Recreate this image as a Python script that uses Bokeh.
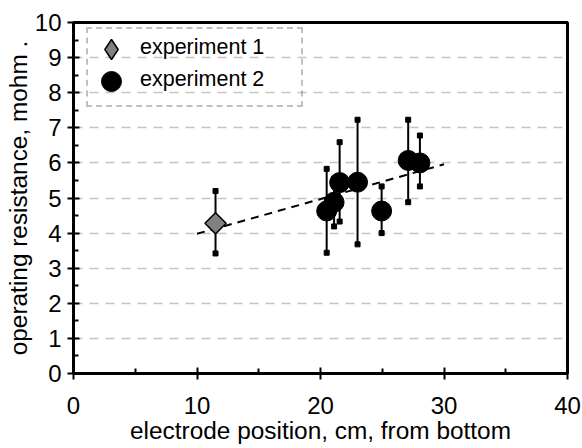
from bokeh.plotting import figure
from bokeh.models import Range1d, FixedTicker, Legend, LegendItem, ColumnDataSource
from bokeh.embed import file_html
from bokeh.resources import INLINE

# ---- data ----
exp1_x = [11.5]
exp1_y = [4.28]
exp1_lo = [3.42]
exp1_hi = [5.2]

exp2_x = [20.5, 21.1, 21.55, 23.0, 24.95, 27.1, 28.05]
exp2_y = [4.63, 4.88, 5.44, 5.45, 4.63, 6.07, 6.0]
exp2_lo = [3.44, 4.19, 4.33, 3.68, 4.0, 4.88, 5.33]
exp2_hi = [5.83, 5.55, 6.59, 7.23, 5.33, 7.23, 6.78]

trend_x = [10, 30]
trend_y = [3.98, 5.96]

x_ticks = [0, 10, 20, 30, 40]
y_ticks = [0, 1, 2, 3, 4, 5, 6, 7, 8, 9, 10]
series_labels = ["experiment 1", "experiment 2"]

FONT = "Liberation Sans"
FRAME_W = 494
FRAME_H = 351

p = figure(frame_width=FRAME_W, frame_height=FRAME_H, output_backend="svg", toolbar_location=None,
           x_range=Range1d(0, 40), y_range=Range1d(0, 10),
           min_border_left=73, min_border_right=15, min_border_top=22, min_border_bottom=75)
p.background_fill_color = "white"
p.border_fill_color = "white"
p.outline_line_color = "black"
p.outline_line_width = 3

# grid
p.xgrid.visible = False
p.ygrid.ticker = FixedTicker(ticks=y_ticks[1:-1])
p.ygrid.grid_line_color = "#c4c4c4"
p.ygrid.grid_line_width = 1.5
p.ygrid.grid_line_dash = "9 7"

for ax, ticks in ((p.xaxis[0], x_ticks), (p.yaxis[0], y_ticks)):
    minor = []
    for a, b in zip(ticks[:-1], ticks[1:]):
        minor.append((a + b) / 2)
    ax.ticker = FixedTicker(ticks=ticks, minor_ticks=minor)
    ax.axis_line_width = 3
    ax.axis_line_color = "black"
    ax.major_tick_line_width = 2
    ax.minor_tick_line_width = 2
    ax.major_tick_in = 6
    ax.major_tick_out = 6
    ax.minor_tick_in = 5
    ax.minor_tick_out = 0
    ax.major_label_text_font = FONT
    ax.major_label_text_font_size = "24px"
    ax.major_label_text_color = "black"
    ax.axis_label_text_font = FONT
    ax.axis_label_text_font_style = "normal"
    ax.axis_label_text_color = "black"
    ax.axis_label_text_font_size = "24.4px"
    ax.axis_label_standoff = 0

p.xaxis.axis_label = "electrode position, cm, from bottom"
p.yaxis.axis_label = "operating resistance, mohm ."
p.xaxis.major_label_standoff = 17
p.yaxis.major_label_standoff = 6

# trend line
p.line(trend_x, trend_y, line_color="black", line_width=2, line_dash="8 6")

# error bars
s1 = ColumnDataSource(dict(x=exp1_x, y=exp1_y, lo=exp1_lo, hi=exp1_hi))
s2 = ColumnDataSource(dict(x=exp2_x, y=exp2_y, lo=exp2_lo, hi=exp2_hi))
for s in (s1, s2):
    p.segment(x0="x", y0="lo", x1="x", y1="hi", source=s, line_color="black", line_width=2)
    p.scatter(x="x", y="lo", source=s, marker="square", size=5, fill_color="black", line_color="black")
    p.scatter(x="x", y="hi", source=s, marker="square", size=5, fill_color="black", line_color="black")

r1 = p.scatter(x="x", y="y", source=s1, marker="square", angle=0.785398, size=15,
               fill_color="#808080", line_color="black", line_width=1.5)
r2 = p.scatter(x="x", y="y", source=s2, marker="circle", size=20,
               fill_color="black", line_color="black")

# legend proxies (not drawn in the plot, only used for legend swatches)
blank = p.scatter(x="x", y="y", source=s1, marker="circle", size=1,
                  fill_alpha=0, line_alpha=0, visible=False)
leg1 = p.scatter(x="x", y="y", source=s1, marker="diamond", size=20,
                 fill_color="#808080", line_color="black", line_width=1.5, visible=False)

# framed legend with the labels
frame_leg = Legend(items=[LegendItem(label=series_labels[0], renderers=[blank]),
                          LegendItem(label=series_labels[1], renderers=[blank])],
                   location=(13, FRAME_H - 9 - 76))
frame_leg.glyph_width = 32
frame_leg.glyph_height = 32
frame_leg.spacing = 0
frame_leg.padding = dict(left=8, right=8, top=2, bottom=10)
frame_leg.label_standoff = 12
frame_leg.label_width = 153
frame_leg.label_text_font = FONT
frame_leg.label_text_font_size = "21.5px"
frame_leg.label_text_color = "black"
frame_leg.border_line_color = "#808080"
frame_leg.border_line_width = 2
frame_leg.border_line_dash = "8 5"
frame_leg.background_fill_alpha = 0
frame_leg.margin = 0
p.add_layout(frame_leg, "center")

# large legend swatches
for rend, top in ((leg1, 2), (r2, 34)):
    sw = Legend(items=[LegendItem(label=" ", renderers=[rend])],
                location=(13, FRAME_H - top - 50))
    sw.glyph_width = 50
    sw.glyph_height = 50
    sw.padding = 0
    sw.spacing = 0
    sw.label_standoff = 0
    sw.label_width = 0
    sw.label_text_font_size = "1px"
    sw.border_line_alpha = 0
    sw.background_fill_alpha = 0
    sw.margin = 0
    p.add_layout(sw, "center")

open("out.html", "w").write(file_html(p, INLINE))
